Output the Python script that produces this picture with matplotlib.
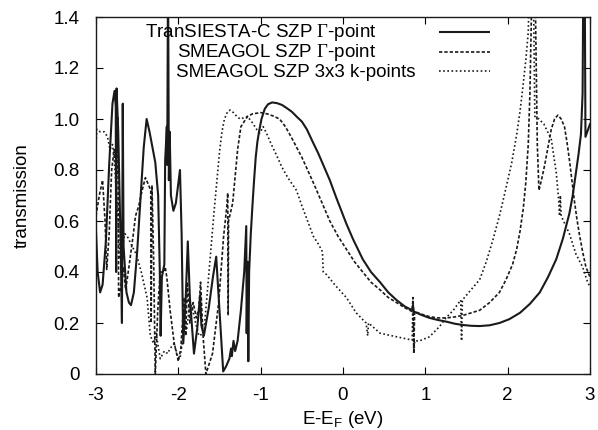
import matplotlib.pyplot as plt

# TranSIESTA-C SZP Gamma-point (solid)
siesta_e = [-3.00, -2.98, -2.95, -2.92, -2.88, -2.84, -2.80, -2.775, -2.76, -2.755, -2.75, -2.73,
            -2.70, -2.685, -2.675, -2.665, -2.63, -2.60, -2.575, -2.54, -2.50, -2.45, -2.42, -2.385,
            -2.35, -2.28, -2.245, -2.225, -2.215, -2.20, -2.17, -2.16, -2.15, -2.14, -2.135, -2.125,
            -2.115, -2.105, -2.09, -2.06, -2.03, -2.00, -1.98, -1.96, -1.94, -1.91, -1.885, -1.86,
            -1.81, -1.77, -1.735, -1.72, -1.69, -1.63, -1.58, -1.54, -1.50, -1.455, -1.42, -1.38,
            -1.36, -1.35, -1.33, -1.31, -1.28, -1.24, -1.20, -1.175, -1.17, -1.16, -1.15, -1.14,
            -1.12, -1.10, -1.08, -1.06, -1.04, -1.02, -0.99, -0.95, -0.91, -0.86, -0.80, -0.74,
            -0.68, -0.62, -0.565, -0.50, -0.44, -0.36, -0.30, -0.24, -0.16, -0.08, 0.04, 0.12,
            0.24, 0.34, 0.45, 0.55, 0.65, 0.75, 0.84, 0.85, 0.86, 0.95, 1.05, 1.15, 1.26, 1.36,
            1.46, 1.56, 1.66, 1.78, 1.90, 2.02, 2.15, 2.27, 2.39, 2.49, 2.59, 2.67, 2.75, 2.79,
            2.83, 2.86, 2.89, 2.91, 2.92, 2.935, 2.945, 3.00]
siesta_t = [0.56, 0.40, 0.32, 0.35, 0.52, 0.82, 1.06, 1.11, 1.05, 0.40, 1.12, 0.95,
            0.50, 0.20, 1.06, 0.50, 0.32, 0.28, 0.27, 0.32, 0.48, 0.74, 0.89, 1.00,
            0.95, 0.83, 0.70, 0.40, 0.15, 0.38, 0.43, 0.84, 0.90, 0.97, 0.82, 1.60,
            0.76, 0.95, 0.70, 0.64, 0.67, 0.75, 0.80, 0.55, 0.12, 0.30, 0.52, 0.30,
            0.08, 0.18, 0.31, 0.19, 0.15, 0.26, 0.38, 0.46, 0.25, 0.01, 0.03, 0.06,
            0.10, 0.07, 0.13, 0.09, 0.13, 0.25, 0.40, 0.58, 0.16, 0.44, 0.05, 0.40,
            0.55, 0.66, 0.76, 0.85, 0.91, 0.95, 1.00, 1.04, 1.058, 1.065, 1.062, 1.055,
            1.042, 1.028, 1.01, 0.99, 0.96, 0.905, 0.865, 0.82, 0.76, 0.69, 0.59, 0.53,
            0.45, 0.40, 0.36, 0.32, 0.29, 0.265, 0.25, 0.27, 0.245, 0.232, 0.22, 0.212, 0.205, 0.197,
            0.192, 0.189, 0.188, 0.191, 0.20, 0.215, 0.24, 0.275, 0.32, 0.38, 0.45, 0.53, 0.63, 0.70,
            0.79, 0.86, 0.94, 1.10, 1.60, 1.60, 0.93, 0.98]

# SMEAGOL SZP Gamma-point (dashed)
smeagol_g_e = [-3.00, -2.96, -2.92, -2.89, -2.87, -2.84, -2.81, -2.78, -2.75, -2.735, -2.725,
               -2.70, -2.67, -2.64, -2.60, -2.55, -2.52, -2.48, -2.44, -2.40, -2.36, -2.335,
               -2.33, -2.32, -2.30, -2.28, -2.25, -2.22, -2.18, -2.16, -2.14, -2.10, -2.05,
               -2.00, -1.97, -1.93, -1.91, -1.89, -1.86, -1.82, -1.78, -1.75, -1.73, -1.70,
               -1.665, -1.585, -1.51, -1.45, -1.41, -1.40, -1.395, -1.39, -1.34, -1.28, -1.24,
               -1.20, -1.16, -1.10, -1.00, -0.92, -0.85, -0.77, -0.70, -0.63, -0.565, -0.50,
               -0.43, -0.36, -0.26, -0.16, -0.06, 0.04, 0.14, 0.24, 0.34, 0.45, 0.55, 0.65,
               0.75, 0.84, 0.85, 0.86, 0.87, 0.95, 1.05, 1.15, 1.26, 1.36, 1.46, 1.56, 1.66,
               1.78, 1.90, 1.98, 2.06, 2.11, 2.15, 2.19, 2.22, 2.25, 2.27, 2.30, 2.33,
               2.36, 2.38, 2.41, 2.45, 2.49, 2.53, 2.57, 2.61, 2.65, 2.69, 2.72, 2.75, 2.78,
               2.81, 2.84, 2.87, 2.91, 2.95, 3.00]
smeagol_g_t = [0.62, 0.70, 0.76, 0.60, 0.41, 0.55, 0.80, 0.88, 0.78, 1.01, 0.30,
               0.34, 0.42, 0.33, 0.42, 0.54, 0.62, 0.66, 0.72, 0.77, 0.74, 0.72,
               0.20, 0.74, 0.45, 0.00, 0.25, 0.40, 0.40, 0.42, 0.38, 0.25, 0.12,
               0.05, 0.10, 0.30, 0.15, 0.36, 0.20, 0.28, 0.22, 0.26, 0.36, 0.15,
               0.00, 0.08, 0.28, 0.54, 0.66, 0.71, 0.23, 0.60, 0.67, 0.88, 0.97,
               0.99, 1.01, 1.02, 1.025, 1.02, 1.012, 1.00, 0.97, 0.93, 0.89, 0.85,
               0.80, 0.75, 0.675, 0.60, 0.54, 0.49, 0.44, 0.40, 0.36, 0.33, 0.30, 0.28,
               0.26, 0.245, 0.30, 0.08, 0.245, 0.235, 0.225, 0.22, 0.22, 0.224, 0.23, 0.24, 0.25,
               0.28, 0.32, 0.37, 0.43, 0.49, 0.56, 0.65, 0.75, 0.90, 1.10, 1.60, 1.60,
               0.90, 0.72, 0.76, 0.82, 0.89, 0.96, 1.00, 1.015, 1.00, 0.97, 0.91, 0.84, 0.76,
               0.68, 0.61, 0.55, 0.48, 0.42, 0.38]

# SMEAGOL SZP 3x3 k-points (dotted)
smeagol_k_e = [-3.00, -2.99, -2.95, -2.90, -2.86, -2.83, -2.80, -2.78, -2.74, -2.71, -2.68,
               -2.65, -2.62, -2.56, -2.51, -2.45, -2.38, -2.34, -2.30, -2.27, -2.22, -2.17,
               -2.13, -2.10, -2.05, -2.00, -1.98, -1.94, -1.90, -1.86, -1.83, -1.79, -1.75,
               -1.69, -1.625, -1.565, -1.50, -1.47, -1.44, -1.40, -1.37, -1.33, -1.29, -1.25,
               -1.20, -1.16, -1.10, -1.05, -1.01, -0.97, -0.93, -0.87, -0.81, -0.74, -0.67,
               -0.565, -0.50, -0.43, -0.36, -0.30, -0.25, -0.24, -0.20, -0.10, 0.04, 0.16,
               0.28, 0.30, 0.31, 0.45, 0.65, 0.84, 0.85, 0.86, 0.87, 0.93, 1.05, 1.17, 1.25,
               1.34, 1.43, 1.44, 1.45, 1.58, 1.66, 1.74, 1.82, 1.90, 1.98, 2.05, 2.11, 2.15,
               2.19, 2.22, 2.25, 2.27, 2.31, 2.33, 2.38, 2.44, 2.53, 2.59, 2.62, 2.63, 2.64,
               2.65, 2.75, 2.83, 2.91, 2.96, 3.00]
smeagol_k_t = [0.89, 0.96, 0.95, 0.95, 0.93, 0.88, 0.90, 0.85, 0.65, 0.45, 0.50,
               0.55, 0.54, 0.50, 0.47, 0.40, 0.30, 0.15, 0.12, 0.16, 0.06, 0.09,
               0.08, 0.10, 0.12, 0.06, 0.06, 0.15, 0.17, 0.28, 0.26, 0.20, 0.15,
               0.16, 0.41, 0.64, 0.87, 0.95, 1.00, 1.03, 1.035, 1.025, 1.01, 1.00,
               1.005, 1.01, 0.985, 0.96, 0.945, 0.97, 0.945, 0.90, 0.86, 0.81, 0.77,
               0.72, 0.66, 0.60, 0.54, 0.51, 0.48, 0.40, 0.39, 0.35, 0.30, 0.24,
               0.20, 0.15, 0.20, 0.16, 0.146, 0.133, 0.29, 0.08, 0.13, 0.13, 0.146, 0.185, 0.22,
               0.25, 0.29, 0.13, 0.29, 0.34, 0.37, 0.44, 0.525, 0.62, 0.73, 0.83, 0.94, 1.03,
               1.14, 1.23, 1.34, 1.60, 1.60, 1.01, 1.00, 0.98, 0.92, 0.79, 0.68, 0.62, 0.70,
               0.62, 0.55, 0.47, 0.42, 0.37, 0.34]

x_ticks = [-3, -2, -1, 0, 1, 2, 3]
x_tick_labels = ['-3', '-2', '-1', '0', '1', '2', '3']
y_ticks = [0, 0.2, 0.4, 0.6, 0.8, 1.0, 1.2, 1.4]
y_tick_labels = ['0', '0.2', '0.4', '0.6', '0.8', '1.0', '1.2', '1.4']

# Gamma in a serif face, like the Symbol font gnuplot uses
LABELS = ['TranSIESTA-C SZP $\\mathrm{\\Gamma}$-point',
          'SMEAGOL SZP $\\mathrm{\\Gamma}$-point',
          'SMEAGOL SZP 3x3 k-points']

DASHED = (2.0, 1.2)
DOTTED = (1, 1.5)
INK = '#1a1a1a'


def draw_key(ax):
    # gnuplot style key: text first, sample line to the right
    styles = [dict(lw=1.5), dict(lw=1.2, dashes=DASHED), dict(lw=1.2, dashes=DOTTED)]
    text_y = [0.944, 0.888, 0.832]
    line_y = [0.958, 0.902, 0.849]
    for i, (label, style) in enumerate(zip(LABELS, styles)):
        if i < 2:
            ax.text(0.5668, text_y[i], label, ha='right', va='baseline', transform=ax.transAxes)
        else:
            ax.text(0.162, text_y[i], label, ha='left', va='baseline', transform=ax.transAxes)
        ax.plot([0.6943, 0.7976], [line_y[i], line_y[i]], color=INK, transform=ax.transAxes,
                solid_capstyle='butt', dash_capstyle='butt', **style)


def main():
    plt.rcParams['font.family'] = ['Liberation Sans', 'DejaVu Sans']
    plt.rcParams['font.size'] = 13.5
    plt.rcParams['mathtext.fontset'] = 'custom'
    plt.rcParams['mathtext.rm'] = 'Liberation Serif'

    fig = plt.figure(figsize=(5.98, 4.30), dpi=100)
    ax = fig.add_axes([96 / 598, 56 / 430, 494 / 598, 357 / 430])

    ax.plot(siesta_e, siesta_t, color=INK, lw=1.5, ls='-')
    ax.plot(smeagol_g_e, smeagol_g_t, color=INK, lw=1.2, dashes=DASHED)
    ax.plot(smeagol_k_e, smeagol_k_t, color=INK, lw=1.2, dashes=DOTTED)

    ax.set_xlim(-3, 3)
    ax.set_ylim(0, 1.4)
    ax.set_xticks(x_ticks)
    ax.set_xticklabels(x_tick_labels)
    ax.set_yticks(y_ticks)
    ax.set_yticklabels(y_tick_labels)
    ax.tick_params(direction='in', top=True, right=True, length=5, width=0.8)
    ax.tick_params(axis='x', pad=9)
    ax.tick_params(axis='y', pad=12)
    for spine in ax.spines.values():
        spine.set_linewidth(1.0)
        spine.set_color(INK)

    ax.set_xlabel('E-E$_\\mathregular{F}$ (eV)', labelpad=4)
    ax.set_ylabel('transmission', labelpad=16)

    draw_key(ax)

    fig.savefig('out.png', dpi=100)
    plt.close(fig)


if __name__ == '__main__':
    main()
